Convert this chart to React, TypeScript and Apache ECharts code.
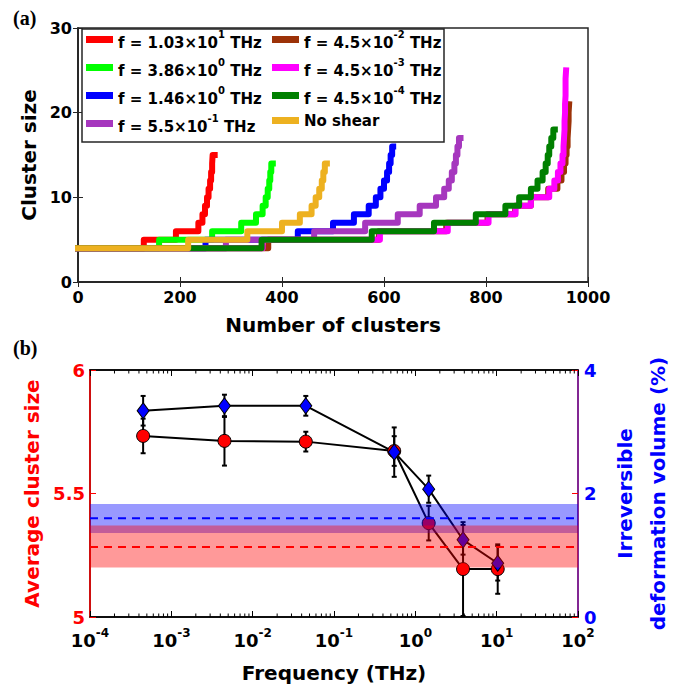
import React, { useEffect, useRef } from 'react';
import * as echarts from 'echarts';

const FONT = '"DejaVu Sans", "Liberation Sans", sans-serif';
const AXIS_GREY = '#262626';

// ---------- (a) cluster size vs number of clusters ----------
const CURVE_NAMES = [
  'f = 1.03×10^1 THz',
  'f = 3.86×10^0 THz',
  'f = 1.46×10^0 THz',
  'f = 5.5×10^-1 THz',
  'f = 4.5×10^-2 THz',
  'f = 4.5×10^-3 THz',
  'f = 4.5×10^-4 THz',
  'No shear',
];
const CURVE_COLORS = ['#ff0000', '#00ff00', '#0000ff', '#a637be', '#9c3208', '#ff00ff', '#008000', '#edb120'];

// Every staircase starts at size 4; each entry is the cluster count where the size rises by one.
const START_SIZE = 4;
const STEPS_F_10_3 = [129, 192, 236, 244, 249, 253, 256, 259, 261, 263, 264];
const STEPS_F_3_86 = [159, 263, 320, 349, 362, 368, 372, 375, 377, 379];
const STEPS_F_1_46 = [250, 431, 500, 541, 570, 584, 593, 600, 606, 610, 613, 616];
const STEPS_F_0_55 = [290, 463, 563, 627, 670, 702, 718, 727, 733, 738, 741, 744, 747];
const STEPS_F_4_5E_2 = [373, 590, 722, 803, 857, 888, 922, 940, 948, 953, 956, 958, 960, 961, 962, 962, 963];
const STEPS_F_4_5E_3 = [362, 592, 725, 805, 858, 888, 924, 934, 941, 946, 950, 952, 953, 954, 954, 955, 955, 956, 956, 956, 957];
const STEPS_F_4_5E_4 = [360, 576, 698, 780, 838, 865, 888, 901, 911, 917, 921, 924, 928, 932];
const STEPS_NO_SHEAR = [216, 332, 400, 435, 458, 466, 473, 478, 481, 484];
const CURVE_STEPS = [
  STEPS_F_10_3, STEPS_F_3_86, STEPS_F_1_46, STEPS_F_0_55,
  STEPS_F_4_5E_2, STEPS_F_4_5E_3, STEPS_F_4_5E_4, STEPS_NO_SHEAR,
];
// Total number of clusters reached by each curve.
const CURVE_END = [268, 382, 618, 750, 963, 957, 935, 488];

// ---------- (b) averages vs shear frequency ----------
const FREQ_THZ = [4.5e-4, 4.5e-3, 4.5e-2, 0.55, 1.46, 3.86, 10.3];
const AVG_SIZE = [5.733, 5.713, 5.71, 5.672, 5.38, 5.194, 5.194];
const AVG_SIZE_ERR = [0.07, 0.1, 0.04, 0.06, 0.07, 0.19, 0.1];
const IRR_VOLUME = [3.34, 3.42, 3.42, 2.67, 2.07, 1.25, 0.87];
const IRR_VOLUME_ERR = [0.24, 0.18, 0.16, 0.4, 0.22, 0.24, 0.28];
// No-shear reference levels: [mean, low, high]
const NO_SHEAR_SIZE = [5.283, 5.2, 5.37];
const NO_SHEAR_VOLUME = [1.6, 1.36, 1.83];

const LOG_DECADES = [-4, -3, -2, -1, 0, 1];
const LOG_MINOR_STEPS = [2, 3, 4, 5, 6, 7, 8, 9];

function staircase(steps: number[], end: number) {
  const pts: number[][] = [[0, START_SIZE]];
  steps.forEach((x, i) => pts.push([x, START_SIZE + i + 1]));
  pts.push([end, START_SIZE + steps.length]);
  return pts;
}

function legendLabel(name: string) {
  const m = name.match(/^(.*)\^(\S+)(.*)$/);
  if (!m) return `{n|${name}}`;
  return `{b|${m[1]}}{s|${m[2]}}{b|${m[3]}}`;
}

const legendRich = {
  b: { fontFamily: FONT, fontWeight: 'bold', fontSize: 15, color: '#000', lineHeight: 16, padding: [6, 0, 0, 0] },
  s: { fontFamily: FONT, fontWeight: 'bold', fontSize: 10, color: '#000', lineHeight: 12, padding: [0, 0, 10, 0] },
  n: { fontFamily: FONT, fontWeight: 'bold', fontSize: 15, color: '#000', lineHeight: 22 },
};

function errorBars(values: number[], errs: number[], yAxisIndex: number) {
  return {
    type: 'custom',
    xAxisIndex: 2,
    yAxisIndex,
    z: 3,
    data: FREQ_THZ.map((f, i) => [f, values[i] - errs[i], values[i] + errs[i]]),
    encode: { x: 0, y: [1, 2] },
    renderItem: (params: any, api: any) => {
      const lo = api.coord([api.value(0), api.value(1)]);
      const hi = api.coord([api.value(0), api.value(2)]);
      const w = 2.5;
      const st = { stroke: '#000', lineWidth: 2 };
      return {
        type: 'group',
        children: [
          { type: 'line', shape: { x1: lo[0], y1: lo[1], x2: hi[0], y2: hi[1] }, style: st },
          { type: 'line', shape: { x1: lo[0] - w, y1: lo[1], x2: lo[0] + w, y2: lo[1] }, style: st },
          { type: 'line', shape: { x1: hi[0] - w, y1: hi[1], x2: hi[0] + w, y2: hi[1] }, style: st },
        ],
      };
    },
  };
}

function band(level: number[], yAxisIndex: number, color: string, fill: string) {
  return {
    type: 'custom',
    xAxisIndex: 2,
    yAxisIndex,
    z: 6,
    silent: true,
    data: [[1, level[0], level[1], level[2]]],
    encode: { x: 0, y: [1, 2, 3] },
    renderItem: (params: any, api: any) => {
      const cs = params.coordSys;
      const mean = api.coord([1, api.value(1)])[1];
      const lo = api.coord([1, api.value(2)])[1];
      const hi = api.coord([1, api.value(3)])[1];
      return {
        type: 'group',
        children: [
          { type: 'rect', shape: { x: cs.x, y: hi, width: cs.width, height: lo - hi }, style: { fill } },
          {
            type: 'line',
            shape: { x1: cs.x, y1: mean, x2: cs.x + cs.width, y2: mean },
            style: { stroke: color, lineWidth: 2, lineDash: [8, 6] },
          },
        ],
      };
    },
  };
}

export default function App() {
  const ref = useRef<HTMLDivElement>(null);

  useEffect(() => {
    if (!ref.current) return;
    const chart = echarts.init(ref.current, undefined, { renderer: 'svg' });

    const curves = CURVE_NAMES.map((name, i) => ({
      type: 'line',
      name,
      xAxisIndex: 0,
      yAxisIndex: 0,
      step: 'end',
      showSymbol: false,
      symbol: 'none',
      clip: false,
      color: CURVE_COLORS[i],
      lineStyle: { color: CURVE_COLORS[i], width: 6, join: 'round', cap: 'square' },
      data: staircase(CURVE_STEPS[i], CURVE_END[i]),
    }));

    const minorTicks: number[][] = [];
    LOG_DECADES.forEach((d) => LOG_MINOR_STEPS.forEach((m) => minorTicks.push([m * Math.pow(10, d), 5])));

    const tickLabel16 = { fontFamily: FONT, fontWeight: 'bold', fontSize: 16, color: '#000' };
    const nameStyle = { fontFamily: FONT, fontWeight: 'bold', fontSize: 20, color: '#000' };

    const option: any = {
      animation: false,
      backgroundColor: '#fff',
      grid: [
        { left: 78, top: 28, width: 510, height: 254, show: true, borderColor: AXIS_GREY, borderWidth: 1.5 },
        { left: 90, top: 370, width: 493, height: 247, show: true, borderColor: '#000', borderWidth: 1.5 },
      ],
      legend: [
        {
          data: CURVE_NAMES.slice(0, 4),
          left: 86, top: 29, orient: 'vertical', padding: 0, itemGap: 7,
          itemWidth: 27, itemHeight: 7, icon: 'rect', selectedMode: false,
          formatter: legendLabel, textStyle: { rich: legendRich },
        },
        {
          data: CURVE_NAMES.slice(4),
          left: 272, top: 29, orient: 'vertical', padding: 0, itemGap: 7,
          itemWidth: 27, itemHeight: 7, icon: 'rect', selectedMode: false,
          formatter: legendLabel, textStyle: { rich: legendRich },
        },
      ],
      graphic: [
        {
          type: 'rect', z: 3, silent: true,
          shape: { x: 82, y: 29, width: 362, height: 113 },
          style: { fill: '#fff', stroke: AXIS_GREY, lineWidth: 1.5 },
        },
        { type: 'text', x: 13, y: 8, style: { text: '(a)', font: 'bold 20px "Liberation Serif", serif', fill: '#000' } },
        { type: 'text', x: 13, y: 338, style: { text: '(b)', font: 'bold 20px "Liberation Serif", serif', fill: '#000' } },
      ],
      xAxis: [
        {
          gridIndex: 0, type: 'value', min: 0, max: 1000, interval: 200,
          axisLine: { lineStyle: { color: AXIS_GREY, width: 1.5 } },
          axisTick: { inside: true, length: 5, lineStyle: { color: AXIS_GREY } },
          axisLabel: { ...tickLabel16, margin: 7, formatter: (v: number) => String(v) },
          splitLine: { show: false },
          name: 'Number of clusters', nameLocation: 'middle', nameGap: 33, nameTextStyle: nameStyle,
        },
        {
          gridIndex: 0, type: 'value', min: 0, max: 1000, interval: 200, position: 'top',
          axisLine: { lineStyle: { color: AXIS_GREY, width: 1.5 } },
          axisTick: { inside: true, length: 5, lineStyle: { color: AXIS_GREY } },
          axisLabel: { show: false }, splitLine: { show: false },
        },
        {
          gridIndex: 1, type: 'log', logBase: 10, min: 1e-4, max: 1e2, splitNumber: 6,
          axisLine: { lineStyle: { color: '#000', width: 1.5 } },
          axisTick: { inside: true, length: 6, lineStyle: { color: '#000' } },
          axisLabel: {
            margin: 11,
            formatter: (v: number) => `{b|10}{s|${Math.round(Math.log10(v))}}`,
            rich: {
              b: { fontFamily: FONT, fontWeight: 'bold', fontSize: 18, color: '#000', lineHeight: 18, padding: [6, 0, 0, 0] },
              s: { fontFamily: FONT, fontWeight: 'bold', fontSize: 12, color: '#000', lineHeight: 12, padding: [2, 0, 10, 0] },
            },
          },
          splitLine: { show: false },
          name: 'Frequency (THz)', nameLocation: 'middle', nameGap: 46, nameTextStyle: nameStyle,
        },
        {
          gridIndex: 1, type: 'log', logBase: 10, min: 1e-4, max: 1e2, splitNumber: 6, position: 'top',
          axisLine: { lineStyle: { color: '#000', width: 1.5 } },
          axisTick: { inside: true, length: 6, lineStyle: { color: '#000' } },
          axisLabel: { show: false }, splitLine: { show: false },
        },
      ],
      yAxis: [
        {
          gridIndex: 0, type: 'value', min: 0, max: 30, interval: 10,
          axisLine: { show: true, lineStyle: { color: AXIS_GREY, width: 1.5 } },
          axisTick: { show: true, inside: true, length: 5, lineStyle: { color: AXIS_GREY } },
          axisLabel: { ...tickLabel16, margin: 6 },
          splitLine: { show: false },
          name: 'Cluster size', nameLocation: 'middle', nameRotate: 90, nameGap: 30, nameTextStyle: nameStyle,
        },
        {
          gridIndex: 0, type: 'value', min: 0, max: 30, interval: 10, position: 'right',
          axisLine: { show: true, lineStyle: { color: AXIS_GREY, width: 1.5 } },
          axisTick: { show: true, inside: true, length: 5, lineStyle: { color: AXIS_GREY } },
          axisLabel: { show: false }, splitLine: { show: false },
        },
        {
          gridIndex: 1, type: 'value', min: 5, max: 6, interval: 0.5,
          axisLine: { show: true, lineStyle: { color: '#ff0000', width: 1.5 } },
          axisTick: { show: true, inside: true, length: 6, lineStyle: { color: '#ff0000' } },
          axisLabel: { fontFamily: FONT, fontWeight: 'bold', fontSize: 18, color: '#ff0000', margin: 5 },
          splitLine: { show: false },
          name: 'Average cluster size', nameLocation: 'middle', nameRotate: 90, nameGap: 40,
          nameTextStyle: { ...nameStyle, color: '#ff0000' },
        },
        {
          gridIndex: 1, type: 'value', min: 0, max: 4, interval: 2, position: 'right',
          axisLine: { show: true, lineStyle: { color: '#9a1fb0', width: 1.5 } },
          axisTick: { show: true, inside: true, length: 6, lineStyle: { color: '#ff0000' } },
          axisLabel: { fontFamily: FONT, fontWeight: 'bold', fontSize: 18, color: '#0000ff', margin: 6 },
          splitLine: { show: false },
          name: 'Irreversible\ndeformation volume (%)', nameLocation: 'middle', nameRotate: 90, nameGap: 30,
          nameTextStyle: { ...nameStyle, color: '#0000ff', lineHeight: 33 },
        },
      ],
      series: [
        ...curves,
        {
          type: 'line', xAxisIndex: 2, yAxisIndex: 2, symbol: 'none', z: 2,
          lineStyle: { color: '#000', width: 2 },
          data: FREQ_THZ.map((f, i) => [f, AVG_SIZE[i]]),
        },
        {
          type: 'line', xAxisIndex: 2, yAxisIndex: 3, symbol: 'none', z: 2,
          lineStyle: { color: '#000', width: 2 },
          data: FREQ_THZ.map((f, i) => [f, IRR_VOLUME[i]]),
        },
        errorBars(AVG_SIZE, AVG_SIZE_ERR, 2),
        errorBars(IRR_VOLUME, IRR_VOLUME_ERR, 3),
        {
          type: 'scatter', xAxisIndex: 2, yAxisIndex: 2, z: 4, symbol: 'circle', symbolSize: 13,
          itemStyle: { color: '#ff0000', borderColor: '#000', borderWidth: 1, opacity: 1 },
          data: FREQ_THZ.map((f, i) => [f, AVG_SIZE[i]]),
        },
        {
          type: 'scatter', xAxisIndex: 2, yAxisIndex: 3, z: 5, symbol: 'diamond', symbolSize: [12, 16],
          itemStyle: { color: '#0000ff', borderColor: '#000', borderWidth: 1, opacity: 1 },
          data: FREQ_THZ.map((f, i) => [f, IRR_VOLUME[i]]),
        },
        band(NO_SHEAR_VOLUME, 3, '#0000ff', 'rgba(0,0,255,0.4)'),
        band(NO_SHEAR_SIZE, 2, '#ff0000', 'rgba(255,0,0,0.4)'),
        {
          type: 'custom', xAxisIndex: 2, yAxisIndex: 2, z: 7, silent: true,
          data: minorTicks,
          encode: { x: 0, y: 1 },
          renderItem: (params: any, api: any) => {
            const cs = params.coordSys;
            const x = api.coord([api.value(0), 5])[0];
            const st = { stroke: '#000', lineWidth: 1 };
            return {
              type: 'group',
              children: [
                { type: 'line', shape: { x1: x, y1: cs.y + cs.height, x2: x, y2: cs.y + cs.height - 3.5 }, style: st },
                { type: 'line', shape: { x1: x, y1: cs.y, x2: x, y2: cs.y + 3.5 }, style: st },
              ],
            };
          },
        },
      ],
    };

    chart.setOption(option);
    return () => chart.dispose();
  }, []);

  return <div ref={ref} style={{ position: 'fixed', left: 0, top: 0, width: 682, height: 694 }} />;
}
